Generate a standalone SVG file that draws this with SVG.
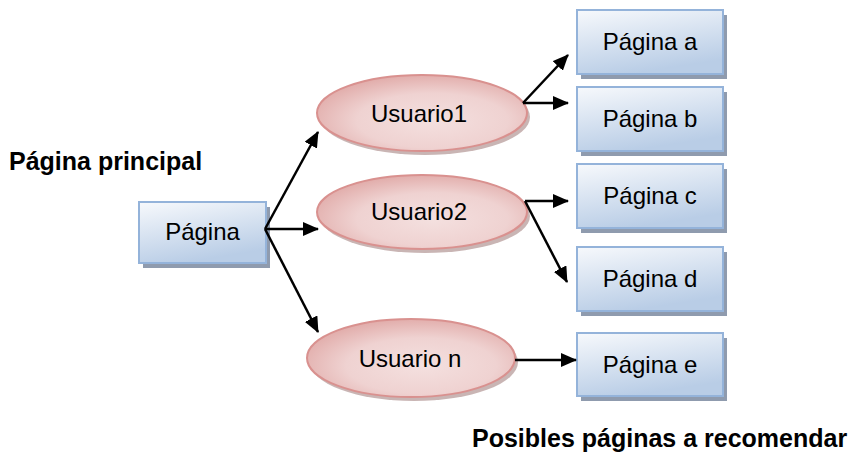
<svg xmlns="http://www.w3.org/2000/svg" width="848" height="459" viewBox="0 0 848 459">
  <defs>
    <linearGradient id="boxFill" x1="0" y1="0" x2="0.35" y2="1">
      <stop offset="0" stop-color="#f7f9fc"/>
      <stop offset="1" stop-color="#b9cde6"/>
    </linearGradient>
    <radialGradient id="ovalFill" cx="0.55" cy="0.6" r="0.6">
      <stop offset="0" stop-color="#f4e0df"/>
      <stop offset="0.6" stop-color="#efd2d1"/>
      <stop offset="1" stop-color="#e2aeac"/>
    </radialGradient>
    <marker id="arrow" markerUnits="userSpaceOnUse" markerWidth="16" markerHeight="14" refX="15" refY="7" orient="auto">
      <path d="M0,0 L16,7 L0,14 Z" fill="#000"/>
    </marker>
    <style>
      .box { fill: url(#boxFill); stroke: #94b3da; stroke-width: 2; }
      .boxShadow { fill: #8f9bae; }
      .oval { fill: url(#ovalFill); stroke: #d9918f; stroke-width: 2; }
      .ovalShadow { fill: #b79c9b; opacity: 0.75; }
      .label { font-family: "Liberation Sans", Arial, sans-serif; font-size: 24px; fill: #000; text-anchor: middle; }
      .title { font-family: "Liberation Sans", Arial, sans-serif; font-size: 25px; font-weight: bold; fill: #000; }
      .link { stroke: #000; stroke-width: 2.5; fill: none; marker-end: url(#arrow); }
    </style>
  </defs>

  <rect width="848" height="459" fill="#ffffff"/>

  <text class="title" x="9" y="170">Página principal</text>
  <text class="title" x="472" y="447">Posibles páginas a recomendar</text>

  <!-- main page -->
  <g id="pagina">
    <rect class="boxShadow" x="143" y="207" width="127" height="61"/>
    <rect class="box" x="139" y="202" width="127" height="61"/>
    <text class="label" x="202.5" y="240">Página</text>
  </g>

  <!-- users -->
  <g id="usuario1">
    <ellipse class="ovalShadow" cx="425" cy="117" rx="105" ry="38"/>
    <ellipse class="oval" cx="422" cy="113" rx="105" ry="38"/>
    <text class="label" x="419" y="122">Usuario1</text>
  </g>
  <g id="usuario2">
    <ellipse class="ovalShadow" cx="425" cy="216" rx="105" ry="37"/>
    <ellipse class="oval" cx="422" cy="212" rx="105" ry="37"/>
    <text class="label" x="419" y="220">Usuario2</text>
  </g>
  <g id="usuarioN">
    <ellipse class="ovalShadow" cx="414" cy="362" rx="104" ry="39"/>
    <ellipse class="oval" cx="411" cy="358" rx="104" ry="39"/>
    <text class="label" x="410" y="367">Usuario n</text>
  </g>

  <!-- recommended pages -->
  <g id="paginaA">
    <rect class="boxShadow" x="581" y="15" width="146" height="64"/>
    <rect class="box" x="577" y="10" width="146" height="64"/>
    <text class="label" x="650" y="50">Página a</text>
  </g>
  <g id="paginaB">
    <rect class="boxShadow" x="581" y="92" width="146" height="64"/>
    <rect class="box" x="577" y="87" width="146" height="64"/>
    <text class="label" x="650" y="127">Página b</text>
  </g>
  <g id="paginaC">
    <rect class="boxShadow" x="581" y="169" width="146" height="64"/>
    <rect class="box" x="577" y="164" width="146" height="64"/>
    <text class="label" x="650" y="204">Página c</text>
  </g>
  <g id="paginaD">
    <rect class="boxShadow" x="581" y="252" width="146" height="64"/>
    <rect class="box" x="577" y="247" width="146" height="64"/>
    <text class="label" x="650" y="287">Página d</text>
  </g>
  <g id="paginaE">
    <rect class="boxShadow" x="581" y="338" width="146" height="63"/>
    <rect class="box" x="577" y="333" width="146" height="63"/>
    <text class="label" x="650" y="373">Página e</text>
  </g>

  <!-- connectors -->
  <g id="connectors">
    <line class="link" x1="265" y1="229" x2="318" y2="132"/>
    <line class="link" x1="265" y1="229" x2="318" y2="229"/>
    <line class="link" x1="265" y1="229" x2="318" y2="332"/>
    <line class="link" x1="523" y1="103" x2="568" y2="55"/>
    <line class="link" x1="523" y1="103" x2="568" y2="103"/>
    <line class="link" x1="525" y1="201" x2="568" y2="201"/>
    <line class="link" x1="525" y1="201" x2="567" y2="282"/>
    <line class="link" x1="515" y1="360" x2="576" y2="360"/>
  </g>
</svg>
